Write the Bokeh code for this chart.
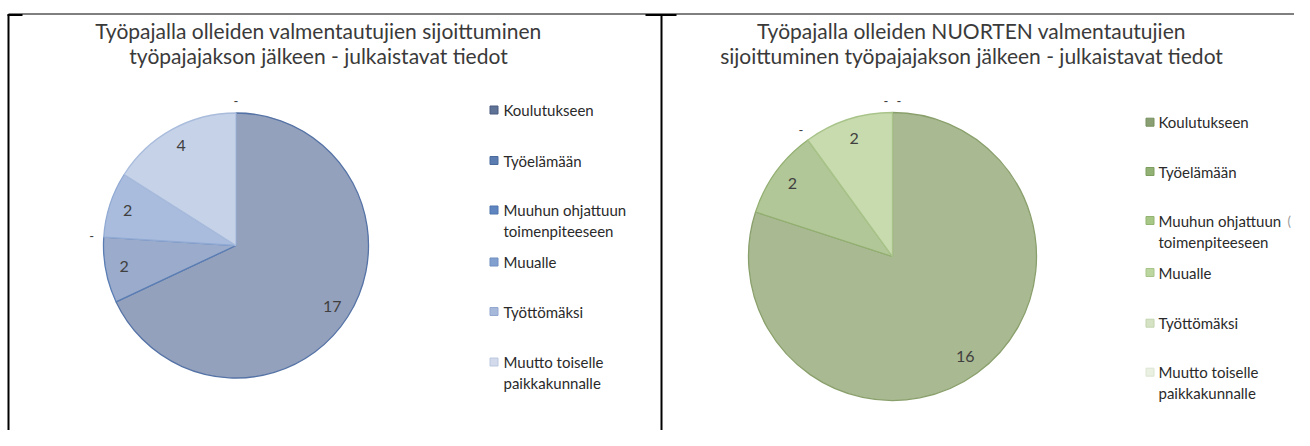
import math
from bokeh.plotting import figure
from bokeh.models import Range1d, ColumnDataSource
from bokeh.core.properties import value
from bokeh.embed import file_html
from bokeh.resources import INLINE

# ---------------- data ----------------
categories = ["Koulutukseen", "Työelämään", "Muuhun ohjattuun toimenpiteeseen",
              "Muualle", "Työttömäksi", "Muutto toiselle paikkakunnalle"]
legend_lines = [["Koulutukseen"], ["Työelämään"], ["Muuhun ohjattuun", "toimenpiteeseen"],
                ["Muualle"], ["Työttömäksi"], ["Muutto toiselle", "paikkakunnalle"]]
values_all = [17, 2, 0, 2, 4, 0]
values_young = [16, 2, 0, 2, 0, 0]
title_all = ["Työpajalla olleiden valmentautujien sijoittuminen",
             "työpajajakson jälkeen - julkaistavat tiedot"]
title_young = ["Työpajalla olleiden NUORTEN valmentautujien",
               "sijoittuminen työpajajakson jälkeen - julkaistavat tiedot"]

# ---------------- styles ----------------
blue_fill = ["#94a1bc", "#9aabcb", "#a3b5d6", "#a9bcdd", "#c6d2e8", "#dce3f0"]
blue_line = ["#5573a6", "#5a7db4", "#7d9acb", "#91aad3", "#a9bcdc", "#c4d0e6"]
blue_leg = ["#5f7396", "#5a7cb0", "#5f86c0", "#82a0cf", "#a6b9db", "#d2daeb"]
blue_leg_line = ["#4a5d80", "#4a6a9c", "#4f74ac", "#6f8fc0", "#92a8cf", "#bcc8e0"]

green_fill = ["#a9b992", "#b2c797", "#bdd2a2", "#c8dbae", "#d7e5c4", "#e6eedc"]
green_line = ["#8aa06c", "#93b072", "#a0bf80", "#a9c48a", "#bfd4a8", "#d6e2c8"]
green_leg = ["#8aa074", "#92b174", "#a7c786", "#bcd69f", "#d5e3c4", "#eaf0e2"]
green_leg_line = ["#76905e", "#7e9e60", "#93b472", "#a8c48a", "#c2d4ae", "#dce5d2"]

FONT = "Lato"
TXT = "#404040"

W, H = 1294, 430
p = figure(width=W, height=H, x_range=Range1d(0, W), y_range=Range1d(0, H),
           output_backend="svg", toolbar_location=None, min_border=0)
p.axis.visible = False
p.grid.visible = False
p.outline_line_color = None
p.background_fill_color = "white"
p.border_fill_color = "white"


def Y(y):
    return H - y


# ---------------- frame lines ----------------
p.segment(x0=[8], y0=[Y(13.5)], x1=[1297], y1=[Y(13.5)], line_color="black", line_width=1)
p.segment(x0=[7, 645, 1297], y0=[Y(14.5)] * 3, x1=[22, 676, 1310], y1=[Y(14.5)] * 3,
          line_color="black", line_width=2)
p.segment(x0=[8, 661], y0=[Y(14), Y(14)], x1=[8, 661], y1=[Y(446), Y(446)],
          line_color="black", line_width=2)


def draw_pie(cx, cy, r, vals, fills, lines):
    total = float(sum(vals))
    cum = 0.0
    src = dict(start=[], end=[], fill=[], line=[])
    lx, ly, lt = [], [], []
    zx, zy = [], []
    for i, v in enumerate(vals):
        a0 = math.pi / 2 - 2 * math.pi * cum / total
        a1 = math.pi / 2 - 2 * math.pi * (cum + v) / total
        if v > 0:
            src["start"].append(a0)
            src["end"].append(a1)
            src["fill"].append(fills[i])
            src["line"].append(lines[i])
            am = (a0 + a1) / 2
            lx.append(cx + 0.86 * r * math.cos(am))
            ly.append(Y(cy) + 0.86 * r * math.sin(am))
            lt.append(str(v))
        else:
            zx.append(cx + (r + 12) * math.cos(a0))
            zy.append(Y(cy) + (r + 12) * math.sin(a0))
        cum += v
    # spread coincident zero labels
    groups = {}
    for k in range(len(zx)):
        key = (round(zx[k]), round(zy[k]))
        groups.setdefault(key, []).append(k)
    for key, idx in groups.items():
        n = len(idx)
        for j, k in enumerate(idx):
            zx[k] += (j - (n - 1) / 2) * 13
    n = len(src["start"])
    ds = ColumnDataSource(dict(x=[cx] * n, y=[Y(cy)] * n, **src))
    p.wedge(x="x", y="y", radius=r, start_angle="start", end_angle="end",
            direction="clock", fill_color="fill", line_color="line", line_width=1.3, source=ds)
    p.text(x=lx, y=ly, text=lt, text_font=value(FONT), text_font_size="16px",
           text_color=TXT, text_align="center", text_baseline="middle")
    p.text(x=zx, y=zy, text=["-"] * len(zx), text_font=value(FONT), text_font_size="13px",
           text_color=TXT, text_align="center", text_baseline="middle")


def draw_title(cx, lines_, y0):
    p.text(x=[cx] * len(lines_), y=[Y(y0 + 25 * i) for i in range(len(lines_))], text=lines_,
           text_font=value(FONT), text_font_size="21px", text_color="#3a3a3a",
           text_align="center", text_baseline="middle")


def draw_legend(mx, tx, ys, fills, lcols):
    p.rect(x=[mx] * len(ys), y=[Y(y) for y in ys], width=8, height=8,
           width_units="screen", height_units="screen",
           fill_color=fills, line_color=lcols, line_width=1)
    xs, yy, tt = [], [], []
    for y, lines_ in zip(ys, legend_lines):
        for j, t in enumerate(lines_):
            xs.append(tx)
            yy.append(Y(y + 21 * j))
            tt.append(t)
    p.text(x=xs, y=yy, text=tt, text_font=value(FONT), text_font_size="15px",
           text_color="#2a2a2a", text_align="left", text_baseline="middle")


# left panel
draw_title(318, title_all, 30)
draw_pie(235.5, 245, 132.5, values_all, blue_fill, blue_line)
draw_legend(493.5, 503, [109.5, 160, 209.5, 261.5, 311, 361.5], blue_leg, blue_leg_line)

# right panel
draw_title(971, title_young, 30)
draw_pie(892, 256, 144, values_young, green_fill, green_line)
draw_legend(1149.5, 1158, [121.7, 171, 220, 272, 322.7, 371.7], green_leg, green_leg_line)
p.text(x=[1287], y=[Y(220)], text=["("], text_font=value(FONT), text_font_size="13px",
       text_color="#999999", text_align="left", text_baseline="middle")

open("out.html", "w").write(file_html(p, INLINE))
